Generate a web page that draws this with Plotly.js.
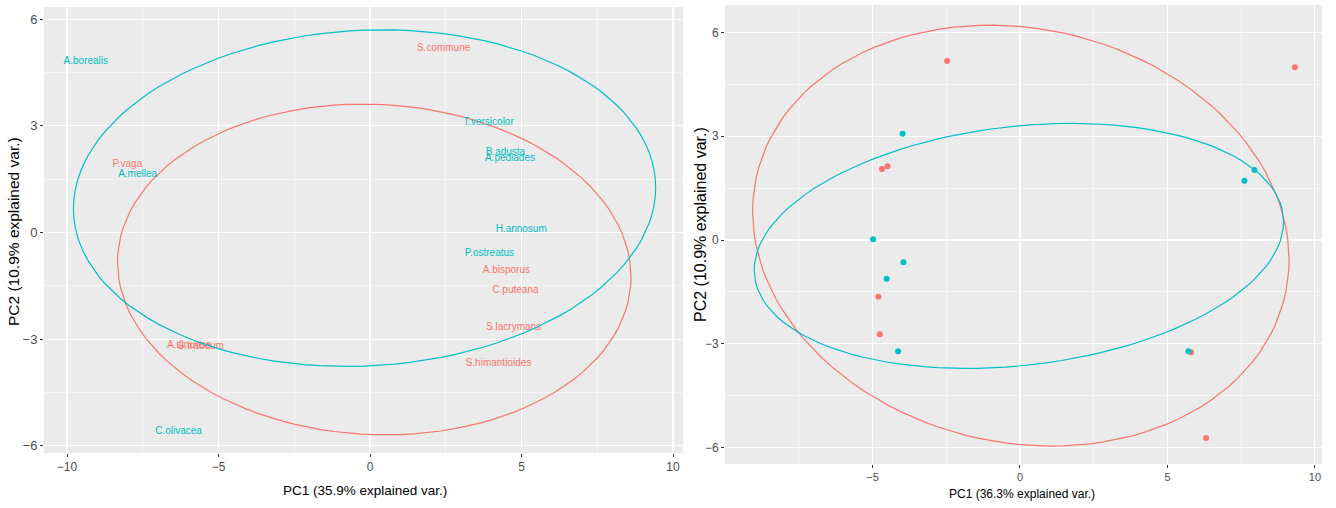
<!DOCTYPE html>
<html>
<head>
<meta charset="utf-8">
<script src="https://cdn.plot.ly/plotly-3.0.1.min.js"></script>
<style>
html,body{margin:0;padding:0;background:#fff;}
#chart{width:1336px;height:508px;}
</style>
</head>
<body>
<div id="chart"></div>
<script>
// ---- Left panel: labelled species (PCA 1) ----
const leftLabels = ["A.borealis","A.mellea","T.versicolor","B.adusta","A.pediades","H.annosum","P.ostreatus","C.olivacea",
                    "P.vaga","S.commune","A.bisporus","C.puteana","S.lacrymans","S.himantioides","A.sinuosa","G.trabeum"];
const leftGroup  = [2,2,2,2,2,2,2,2, 1,1,1,1,1,1,1,1];
const leftPC1    = [-9.38,-7.67,3.91,4.47,4.62,4.99,3.94,-6.32, -8.01,2.43,4.50,4.80,4.74,4.24,-5.97,-5.60];
const leftPC2    = [4.82,1.62,3.08,2.24,2.07,0.08,-0.59,-5.59, 1.90,5.18,-1.06,-1.64,-2.66,-3.67,-3.17,-3.20];

// ---- Right panel: points (PCA 2) ----
const rightGroup = [1,1,1,1,1,1,1,1, 2,2,2,2,2,2,2,2];
const rightPC1   = [-2.47,9.32,-4.68,-4.49,-4.80,-4.75,5.80,6.31, -3.98,-4.98,7.95,7.61,-3.95,-4.52,-4.13,5.71];
const rightPC2   = [5.17,4.99,2.05,2.13,-1.64,-2.72,-3.24,-5.72, 3.07,0.02,2.02,1.71,-0.64,-1.12,-3.21,-3.21];

// ---- Axis texts ----
const leftXTitle  = "PC1 (35.9% explained var.)";
const leftYTitle  = "PC2 (10.9% explained var.)";
const rightXTitle = "PC1 (36.3% explained var.)";
const rightYTitle = "PC2 (10.9% explained var.)";
const groupIds = [1,2];
const groupColors = {1:"#F8766D", 2:"#00BFC4"};
const ellipseProb = 0.68;

// normal-probability ellipse as in ggbiplot
function ellipse(xs, ys){
  const n = xs.length;
  const mx = xs.reduce((a,b)=>a+b,0)/n, my = ys.reduce((a,b)=>a+b,0)/n;
  let sxx=0, syy=0, sxy=0;
  for(let i=0;i<n;i++){ const dx=xs[i]-mx, dy=ys[i]-my; sxx+=dx*dx; syy+=dy*dy; sxy+=dx*dy; }
  sxx/=(n-1); syy/=(n-1); sxy/=(n-1);
  const a=Math.sqrt(sxx), b=sxy/a, c=Math.sqrt(syy-b*b);
  const ed=Math.sqrt(-2*Math.log(1-ellipseProb));
  const ex=[], ey=[];
  const N=120;
  for(let k=0;k<=N;k++){
    const t=-Math.PI+2*Math.PI*k/N;
    const ct=Math.cos(t), st=Math.sin(t);
    ex.push(mx+ed*(ct*a));
    ey.push(my+ed*(ct*b+st*c));
  }
  return {x:ex,y:ey};
}

const traces=[];
groupIds.forEach(g=>{
  const xs=[], ys=[], ts=[];
  leftGroup.forEach((gg,i)=>{ if(gg===g){ xs.push(leftPC1[i]); ys.push(leftPC2[i]); ts.push(leftLabels[i]); } });
  const e=ellipse(xs,ys);
  traces.push({x:e.x,y:e.y,mode:'lines',line:{color:groupColors[g],width:1.2},xaxis:'x',yaxis:'y',hoverinfo:'skip',showlegend:false});
  traces.push({x:xs,y:ys,text:ts,mode:'text',textposition:'middle center',
    textfont:{family:'Liberation Sans, Arial, sans-serif',size:10,color:groupColors[g]},xaxis:'x',yaxis:'y',showlegend:false});
});
groupIds.forEach(g=>{
  const xs=[], ys=[];
  rightGroup.forEach((gg,i)=>{ if(gg===g){ xs.push(rightPC1[i]); ys.push(rightPC2[i]); } });
  const e=ellipse(xs,ys);
  traces.push({x:e.x,y:e.y,mode:'lines',line:{color:groupColors[g],width:1.2},xaxis:'x2',yaxis:'y2',hoverinfo:'skip',showlegend:false});
  traces.push({x:xs,y:ys,mode:'markers',marker:{color:groupColors[g],size:6},xaxis:'x2',yaxis:'y2',showlegend:false});
});

const W=1336, H=508;
const font='Liberation Sans, Arial, sans-serif';
function ax(opts){
  return Object.assign({
    showgrid:true, gridcolor:'#ffffff', gridwidth:1.1, zeroline:false, showline:false,
    ticks:'outside', ticklen:3, tickwidth:1, tickcolor:'#333333',
    tickfont:{family:font,size:12,color:'#4D4D4D'},
    minor:{showgrid:true, gridcolor:'#ffffff', gridwidth:0.5, ticks:''},
    fixedrange:true, automargin:false
  }, opts);
}
const p1 = {l:44, r:683, t:7, b:453};
const p2 = {l:725, r:1322, t:5, b:464};

const layout={
  width:W, height:H,
  margin:{l:0,r:0,t:0,b:0},
  paper_bgcolor:'#ffffff', plot_bgcolor:'#EBEBEB',
  showlegend:false,
  xaxis: ax({domain:[p1.l/W,p1.r/W], range:[-10.76,10.33], tickvals:[-10,-5,0,5,10], minor:{dtick:2.5,tick0:0,showgrid:true,gridcolor:'#fff',gridwidth:0.5}, anchor:'y', tickfont:{family:font,size:12,color:'#4D4D4D'}}),
  yaxis: ax({domain:[1-p1.b/H,1-p1.t/H], range:[-6.2,6.34], tickvals:[-6,-3,0,3,6], minor:{dtick:1.5,tick0:0,showgrid:true,gridcolor:'#fff',gridwidth:0.5}, anchor:'x', tickfont:{family:font,size:13,color:'#4D4D4D'}}),
  xaxis2: ax({domain:[p2.l/W,p2.r/W], range:[-10.0,10.24], tickvals:[-5,0,5,10], minor:{dtick:2.5,tick0:0,showgrid:true,gridcolor:'#fff',gridwidth:0.5}, anchor:'y2', tickfont:{family:font,size:11,color:'#4D4D4D'}}),
  yaxis2: ax({domain:[1-p2.b/H,1-p2.t/H], range:[-6.47,6.79], tickvals:[-6,-3,0,3,6], minor:{dtick:1.5,tick0:0,showgrid:true,gridcolor:'#fff',gridwidth:0.5}, anchor:'x2', tickfont:{family:font,size:12,color:'#4D4D4D'}}),
  annotations:[
    {text:leftXTitle, xref:'paper', yref:'paper', x:365/W, y:1-490/H, showarrow:false, xanchor:'center', yanchor:'middle', font:{family:font,size:13.5,color:'#000'}},
    {text:leftYTitle, xref:'paper', yref:'paper', x:13/W, y:1-232/H, showarrow:false, textangle:-90, xanchor:'center', yanchor:'middle', font:{family:font,size:15.5,color:'#000'}},
    {text:rightXTitle, xref:'paper', yref:'paper', x:1022/W, y:1-494/H, showarrow:false, xanchor:'center', yanchor:'middle', font:{family:font,size:12,color:'#000'}},
    {text:rightYTitle, xref:'paper', yref:'paper', x:700/W, y:1-225/H, showarrow:false, textangle:-90, xanchor:'center', yanchor:'middle', font:{family:font,size:16,color:'#000'}}
  ]
};
Plotly.newPlot('chart', traces, layout, {displayModeBar:false, staticPlot:true});
</script>
</body>
</html>
